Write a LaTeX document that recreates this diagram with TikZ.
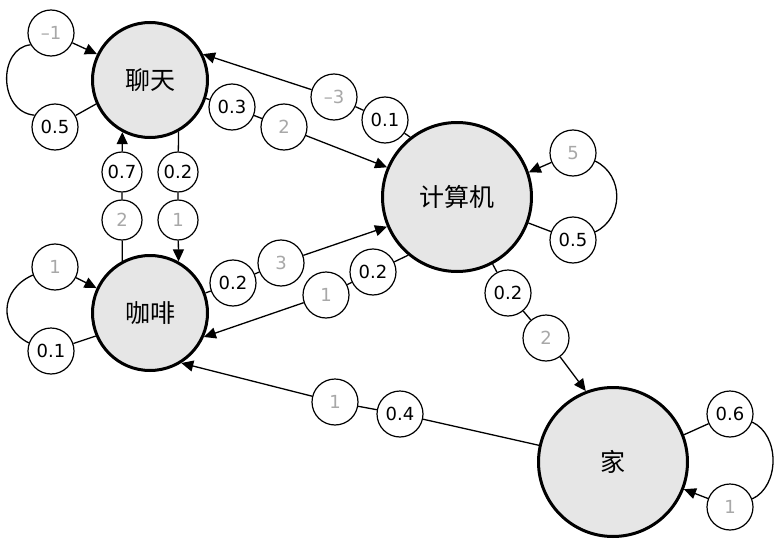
\documentclass[tikz,border=0pt]{standalone}
\usepackage{fontspec}
\setmainfont{DejaVu Sans}
\newfontfamily\cjk{Noto Sans CJK SC}
\usetikzlibrary{arrows.meta}
\definecolor{statefill}{HTML}{E6E6E6}
\definecolor{wtgray}{HTML}{A8A8A8}
\begin{document}
\begin{tikzpicture}[x=1pt,y=-1pt,
  state/.style={circle,draw=black,line width=3pt,fill=statefill,minimum size=115pt,inner sep=0pt,font=\cjk\fontsize{25}{25}\selectfont},
  bigstate/.style={state,minimum size=149pt},
  lab/.style={circle,draw=black,line width=1.2pt,fill=white,minimum size=46pt,inner sep=0pt,font=\fontsize{18}{18}\selectfont},
  slab/.style={lab,minimum size=40pt},
  wt/.style={text=wtgray},
  edge/.style={line width=1.3pt},
  arr/.style={edge,-{Triangle[length=12pt,width=11pt]}},
]
\useasboundingbox (0,0) rectangle (780,546);

% states
\node[state] (chat) at (150,80) {聊天};
\node[state] (coffee) at (150,313) {咖啡};
\node[bigstate] (comp) at (457,197) {计算机};
\node[bigstate] (home) at (613,462) {家};

% labels
\node[lab] (s05) at (55,127) {0.5};
\node[lab,wt] (sm1) at (51,33) {–1};
\node[lab] (a03) at (232,107) {0.3};
\node[lab,wt] (a2) at (284,127) {2};
\node[lab,wt] (bm3) at (334,97) {–3};
\node[lab] (b01) at (385,120) {0.1};
\node[lab,wt] (t5) at (573,153) {5};
\node[lab] (t05) at (573,240) {0.5};
\node[slab] (d07) at (122,172) {0.7};
\node[slab,wt] (d2) at (122,220) {2};
\node[slab] (c02) at (178,172) {0.2};
\node[slab,wt] (c1) at (178,220) {1};
\node[lab,wt] (k1) at (55,267) {1};
\node[lab] (k01) at (51,351) {0.1};
\node[lab] (e02) at (233,283) {0.2};
\node[lab,wt] (e3) at (281,263) {3};
\node[lab,wt] (f1) at (326,295) {1};
\node[lab] (f02) at (373,272) {0.2};
\node[lab] (g02) at (508,293) {0.2};
\node[lab,wt] (g2) at (546,338) {2};
\node[lab,wt] (h1) at (335,402) {1};
\node[lab] (h04) at (400,414) {0.4};
\node[lab] (m06) at (730,414) {0.6};
\node[lab,wt] (m1) at (730,507) {1};

% edges between states
\draw[arr] (chat) -- (a03) -- (a2) -- (comp.157);
\draw[arr] (comp.128) -- (b01) -- (bm3) -- (chat.26);
\draw[arr] (chat.-61.7) -- (c02) -- (c1) -- (coffee.61.7);
\draw[arr] (coffee.118.3) -- (d2) -- (d07) -- (chat.-118.3);
\draw[arr] (coffee) -- (e02) -- (e3) -- (comp.203);
\draw[arr] (comp.230) -- (f02) -- (f1) -- (coffee.-24);
\draw[arr] (comp) -- (g02) -- (g2) -- (home.111);
\draw[arr] (home) -- (h04) -- (h1) -- (coffee.-58);

% self loops
\draw[edge] (chat.204) -- (s05);
\draw[edge] (s05.150) .. controls (-2,112) and (-2,48) .. (sm1.210);
\draw[arr] (sm1) -- (chat.154);

\draw[edge] (coffee.203) -- (k01);
\draw[edge] (k1.200) .. controls (-1,290) and (-1,328) .. (k01.160);
\draw[arr] (k1) -- (coffee.155);

\draw[edge] (comp.-20) -- (t05);
\draw[edge] (t5.-20) .. controls (624,175) and (624,218) .. (t05.20);
\draw[arr] (t5) -- (comp.19);

\draw[edge] (home.21) -- (m06);
\draw[edge] (m06.-20) .. controls (780,435) and (780,486) .. (m1.20);
\draw[arr] (m1) -- (home.-21);
\end{tikzpicture}
\end{document}
